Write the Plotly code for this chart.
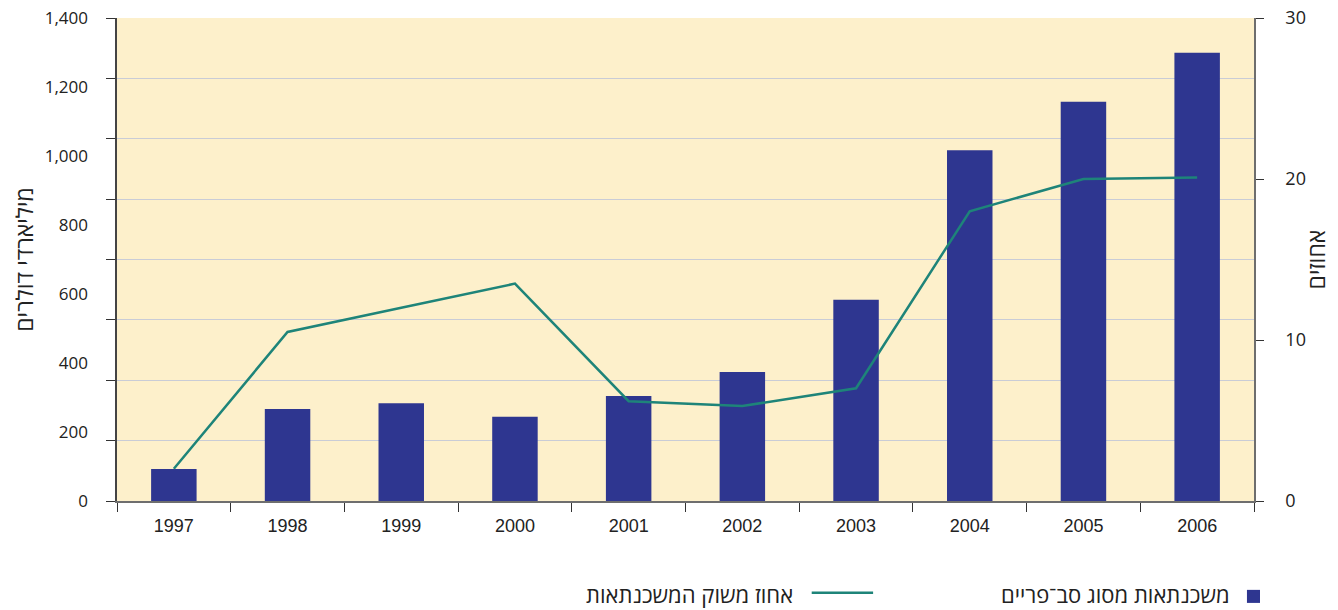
import plotly.graph_objects as go

years = ["1997", "1998", "1999", "2000", "2001", "2002", "2003", "2004", "2005", "2006"]
subprime_bn = [93, 267, 283, 244, 304, 374, 583, 1017, 1157, 1299]
market_share_pct = [2.0, 10.5, 12.0, 13.5, 6.2, 5.9, 7.0, 18.0, 20.0, 20.1]

left_labels = [0, 200, 400, 600, 800, 1000, 1200, 1400]
right_labels = [0, 10, 20, 30]

bar_name = "משכנתאות מסוג סב־פריים"
line_name = "אחוז משוק המשכנתאות"
left_title = "מיליארדי דולרים"
right_title = "אחוזים"

BAR = "#2E3690"
LINE = "#1E8479"
BG = "#FDF0CB"
GRID = "#C9CCD6"
AXIS = "#6E6E6E"
FONT = "Open Sans, Liberation Sans, DejaVu Sans, sans-serif"
ARIAL = "Liberation Sans, Arial, sans-serif"

fig = go.Figure()
fig.add_trace(go.Bar(x=years, y=subprime_bn, name=bar_name, marker_color=BAR,
                     marker_line_width=0, yaxis="y"))
fig.add_trace(go.Scatter(x=years, y=market_share_pct, name=line_name, mode="lines",
                         line=dict(color=LINE, width=2.5), yaxis="y2"))
# dummy trace so yaxis3 (the labels) gets drawn
fig.add_trace(go.Scatter(x=[years[0]], y=[None], yaxis="y3", showlegend=False,
                         hoverinfo="skip"))

# page body has an 8px margin, so the figure is 8px smaller than the window
fig.update_layout(
    width=1330, height=602,
    margin=dict(l=109, r=84, t=10, b=109),
    paper_bgcolor="white", plot_bgcolor=BG,
    showlegend=False,
    bargap=0.6,
    font=dict(family=FONT, size=16, color="#222222"),
    xaxis=dict(
        type="category", tickson="boundaries", ticks="outside", ticklen=9,
        tickcolor="#333333", showline=True, linecolor=AXIS, linewidth=1.5,
        showgrid=False, ticklabelstandoff=8, tickfont=dict(family=ARIAL, size=18),
        range=[-0.5, 9.5], automargin=False,
    ),
    # gridlines + tick marks (Excel-style 8 divisions)
    yaxis=dict(
        range=[0, 1400], tickmode="linear", tick0=0, dtick=175,
        showgrid=True, gridcolor=GRID, gridwidth=1, zeroline=False,
        ticks="outside", ticklen=9, tickcolor="#333333",
        showticklabels=False, showline=True, linecolor="#444444", linewidth=1.5,
        automargin=False,
    ),
    # labels every 200
    yaxis3=dict(
        overlaying="y", side="left", anchor="x", range=[0, 1400],
        tickvals=left_labels, tickformat=",", ticks="", showgrid=False,
        zeroline=False, showline=False, ticklabelstandoff=28,
        ticklabeloverflow="allow",
        tickfont=dict(size=17), automargin=False,
        title=dict(text=left_title, font=dict(size=23), standoff=4),
    ),
    yaxis2=dict(
        overlaying="y", side="right", anchor="x", range=[0, 30],
        tickvals=right_labels, ticks="outside", ticklen=8, tickcolor="#333333",
        showgrid=False, zeroline=False, showline=True, linecolor=AXIS, linewidth=1.5,
        ticklabelstandoff=18, automargin=False, ticklabeloverflow="allow",
        tickfont=dict(size=18),
        title=dict(text=right_title, font=dict(size=23), standoff=4),
    ),
)

# right-to-left legend below the chart
fig.add_shape(type="rect", xref="paper", yref="paper",
              x0=0.9938, x1=1.0053, y0=-0.211, y1=-0.184,
              fillcolor=BAR, line_width=0)
fig.add_annotation(text=bar_name, xref="paper", yref="paper", x=0.9807, y=-0.193,
                   xanchor="right", yanchor="middle", showarrow=False,
                   font=dict(size=22, color="#222222"))
fig.add_shape(type="line", xref="paper", yref="paper",
              x0=0.611, x1=0.665, y0=-0.190, y1=-0.190,
              line=dict(color=LINE, width=2.5))
fig.add_annotation(text=line_name, xref="paper", yref="paper", x=0.5963, y=-0.193,
                   xanchor="right", yanchor="middle", showarrow=False,
                   font=dict(size=22, color="#222222"))

fig.write_html("out.html")
